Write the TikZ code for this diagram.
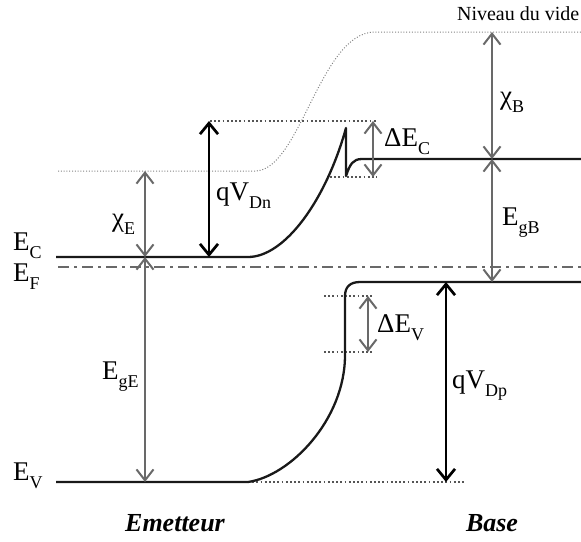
\documentclass[tikz,border=0pt]{standalone}
\usepackage{fontspec}
\setmainfont{Liberation Serif}
\usetikzlibrary{arrows.meta}
\definecolor{arrg}{RGB}{105,105,105}
\definecolor{dotg}{RGB}{85,85,85}
\definecolor{vacg}{RGB}{130,130,130}
\newcommand{\lsub}[1]{\raisebox{-0.3em}{\fontsize{18}{18}\selectfont #1}}
\begin{document}
\begin{tikzpicture}[x=1pt,y=-1pt,
  band/.style={line width=2.3pt, black!90, line join=round},
  dotline/.style={line width=1.8pt, dotg, dash pattern=on 1.8pt off 2.4pt},
  vac/.style={line width=1pt, vacg, dash pattern=on 1pt off 1.8pt},
  fermi/.style={line width=2.4pt, arrg, dash pattern=on 11pt off 5pt on 3pt off 5pt},
  garr/.style={line width=2pt, arrg, {Straight Barb[length=11pt,width=17pt]}-{Straight Barb[length=11pt,width=17pt]}},
  barr/.style={line width=2.7pt, black, {Straight Barb[length=11pt,width=18pt]}-{Straight Barb[length=11pt,width=18pt]}},
  lab/.style={font=\fontsize{27}{30}\selectfont, inner sep=0pt},
  small/.style={font=\fontsize{20}{22}\selectfont, inner sep=0pt},
  region/.style={font=\fontsize{26}{28}\selectfont\bfseries\itshape, inner sep=0pt}]
\useasboundingbox (0,0) rectangle (581,541);

% coordinates
\coordinate (vacL) at (58,171);
\coordinate (vacA) at (255,171);
\coordinate (vacB) at (375,32);
\coordinate (vacR) at (581,32);
\coordinate (fL) at (58,267);
\coordinate (fR) at (581,267);
\coordinate (ecL) at (56,257);
\coordinate (ecA) at (248,257);
\coordinate (spTop) at (346,128);
\coordinate (spBot) at (346,176);
\coordinate (ecB) at (362,159);
\coordinate (ecR) at (581,159);
\coordinate (evL) at (56,482);
\coordinate (evA) at (248,482);
\coordinate (evB) at (345,355);
\coordinate (evC) at (345,296);
\coordinate (evD) at (360,282);
\coordinate (evR) at (581,282);
\coordinate (d1L) at (210,121);
\coordinate (d1R) at (377,121);
\coordinate (d2L) at (330,177);
\coordinate (d2R) at (377,177);
\coordinate (d3L) at (324,296);
\coordinate (d3R) at (373,296);
\coordinate (d4L) at (324,352);
\coordinate (d4R) at (373,352);
\coordinate (d5L) at (248,482);
\coordinate (d5R) at (466,482);
\coordinate (xeT) at (145,171);
\coordinate (xeM) at (145,257);
\coordinate (xeB) at (145,482);
\coordinate (xbT) at (492,32);
\coordinate (xbM) at (492,159);
\coordinate (xbB) at (492,282);
\coordinate (qnT) at (209,121);
\coordinate (qnB) at (209,257);
\coordinate (qpT) at (446,282);
\coordinate (qpB) at (446,482);
\coordinate (dcT) at (373,121);
\coordinate (dcB) at (373,177);
\coordinate (dvT) at (368,296);
\coordinate (dvB) at (368,352);

% vacuum level
\draw[vac] (vacL) -- (vacA) .. controls (300,171) and (320,32) .. (vacB) -- (vacR);
% Fermi level
\draw[fermi] (fL) -- (fR);
% dotted references
\draw[dotline] (d1L) -- (d1R);
\draw[dotline] (d2L) -- (d2R);
\draw[dotline] (d3L) -- (d3R);
\draw[dotline] (d4L) -- (d4R);
\draw[dotline] (d5L) -- (d5R);
% bands
\draw[band] (ecL) -- (ecA) .. controls (285,257) and (326,200) .. (spTop) -- (spBot)
  .. controls (350,164) and (353,159) .. (ecB) -- (ecR);
\draw[band] (evL) -- (evA) .. controls (290,476) and (345,420) .. (evB) -- (evC)
  .. controls (345,287) and (350,282) .. (evD) -- (evR);
% arrows
\draw[garr] (xeT) -- (xeM);
\draw[garr] (xeM) -- (xeB);
\draw[garr] (xbT) -- (xbM);
\draw[garr] (xbM) -- (xbB);
\draw[garr] (dcT) -- (dcB);
\draw[garr] (dvT) -- (dvB);
\draw[barr] (qnT) -- (qnB);
\draw[barr] (qpT) -- (qpB);

% labels
\node[lab, anchor=base west] (lEC) at (13,250) {E\lsub{C}};
\node[lab, anchor=base west] (lEF) at (13,281) {E\lsub{F}};
\node[lab, anchor=base west] (lEV) at (13,480) {E\lsub{V}};
\node[lab, anchor=base west] (lxe) at (112,226) {χ\lsub{E}};
\node[lab, anchor=base west] (lEgE) at (102,379) {E\lsub{gE}};
\node[lab, anchor=base west] (lqn) at (216,200) {qV\lsub{Dn}};
\node[lab, anchor=base west] (ldc) at (384,146) {ΔE\lsub{C}};
\node[lab, anchor=base west] (ldv) at (377,332) {ΔE\lsub{V}};
\node[lab, anchor=base west] (lqp) at (452,388) {qV\lsub{Dp}};
\node[lab, anchor=base west] (lxb) at (500,104) {χ\lsub{B}};
\node[lab, anchor=base west] (lEgB) at (502,225) {E\lsub{gB}};
\node[small, anchor=base east] (lvac) at (579.5,20) {Niveau du vide};
\node[region, anchor=base] (lem) at (175,531) {Emetteur};
\node[region, anchor=base] (lba) at (492,531) {Base};
\end{tikzpicture}
\end{document}
